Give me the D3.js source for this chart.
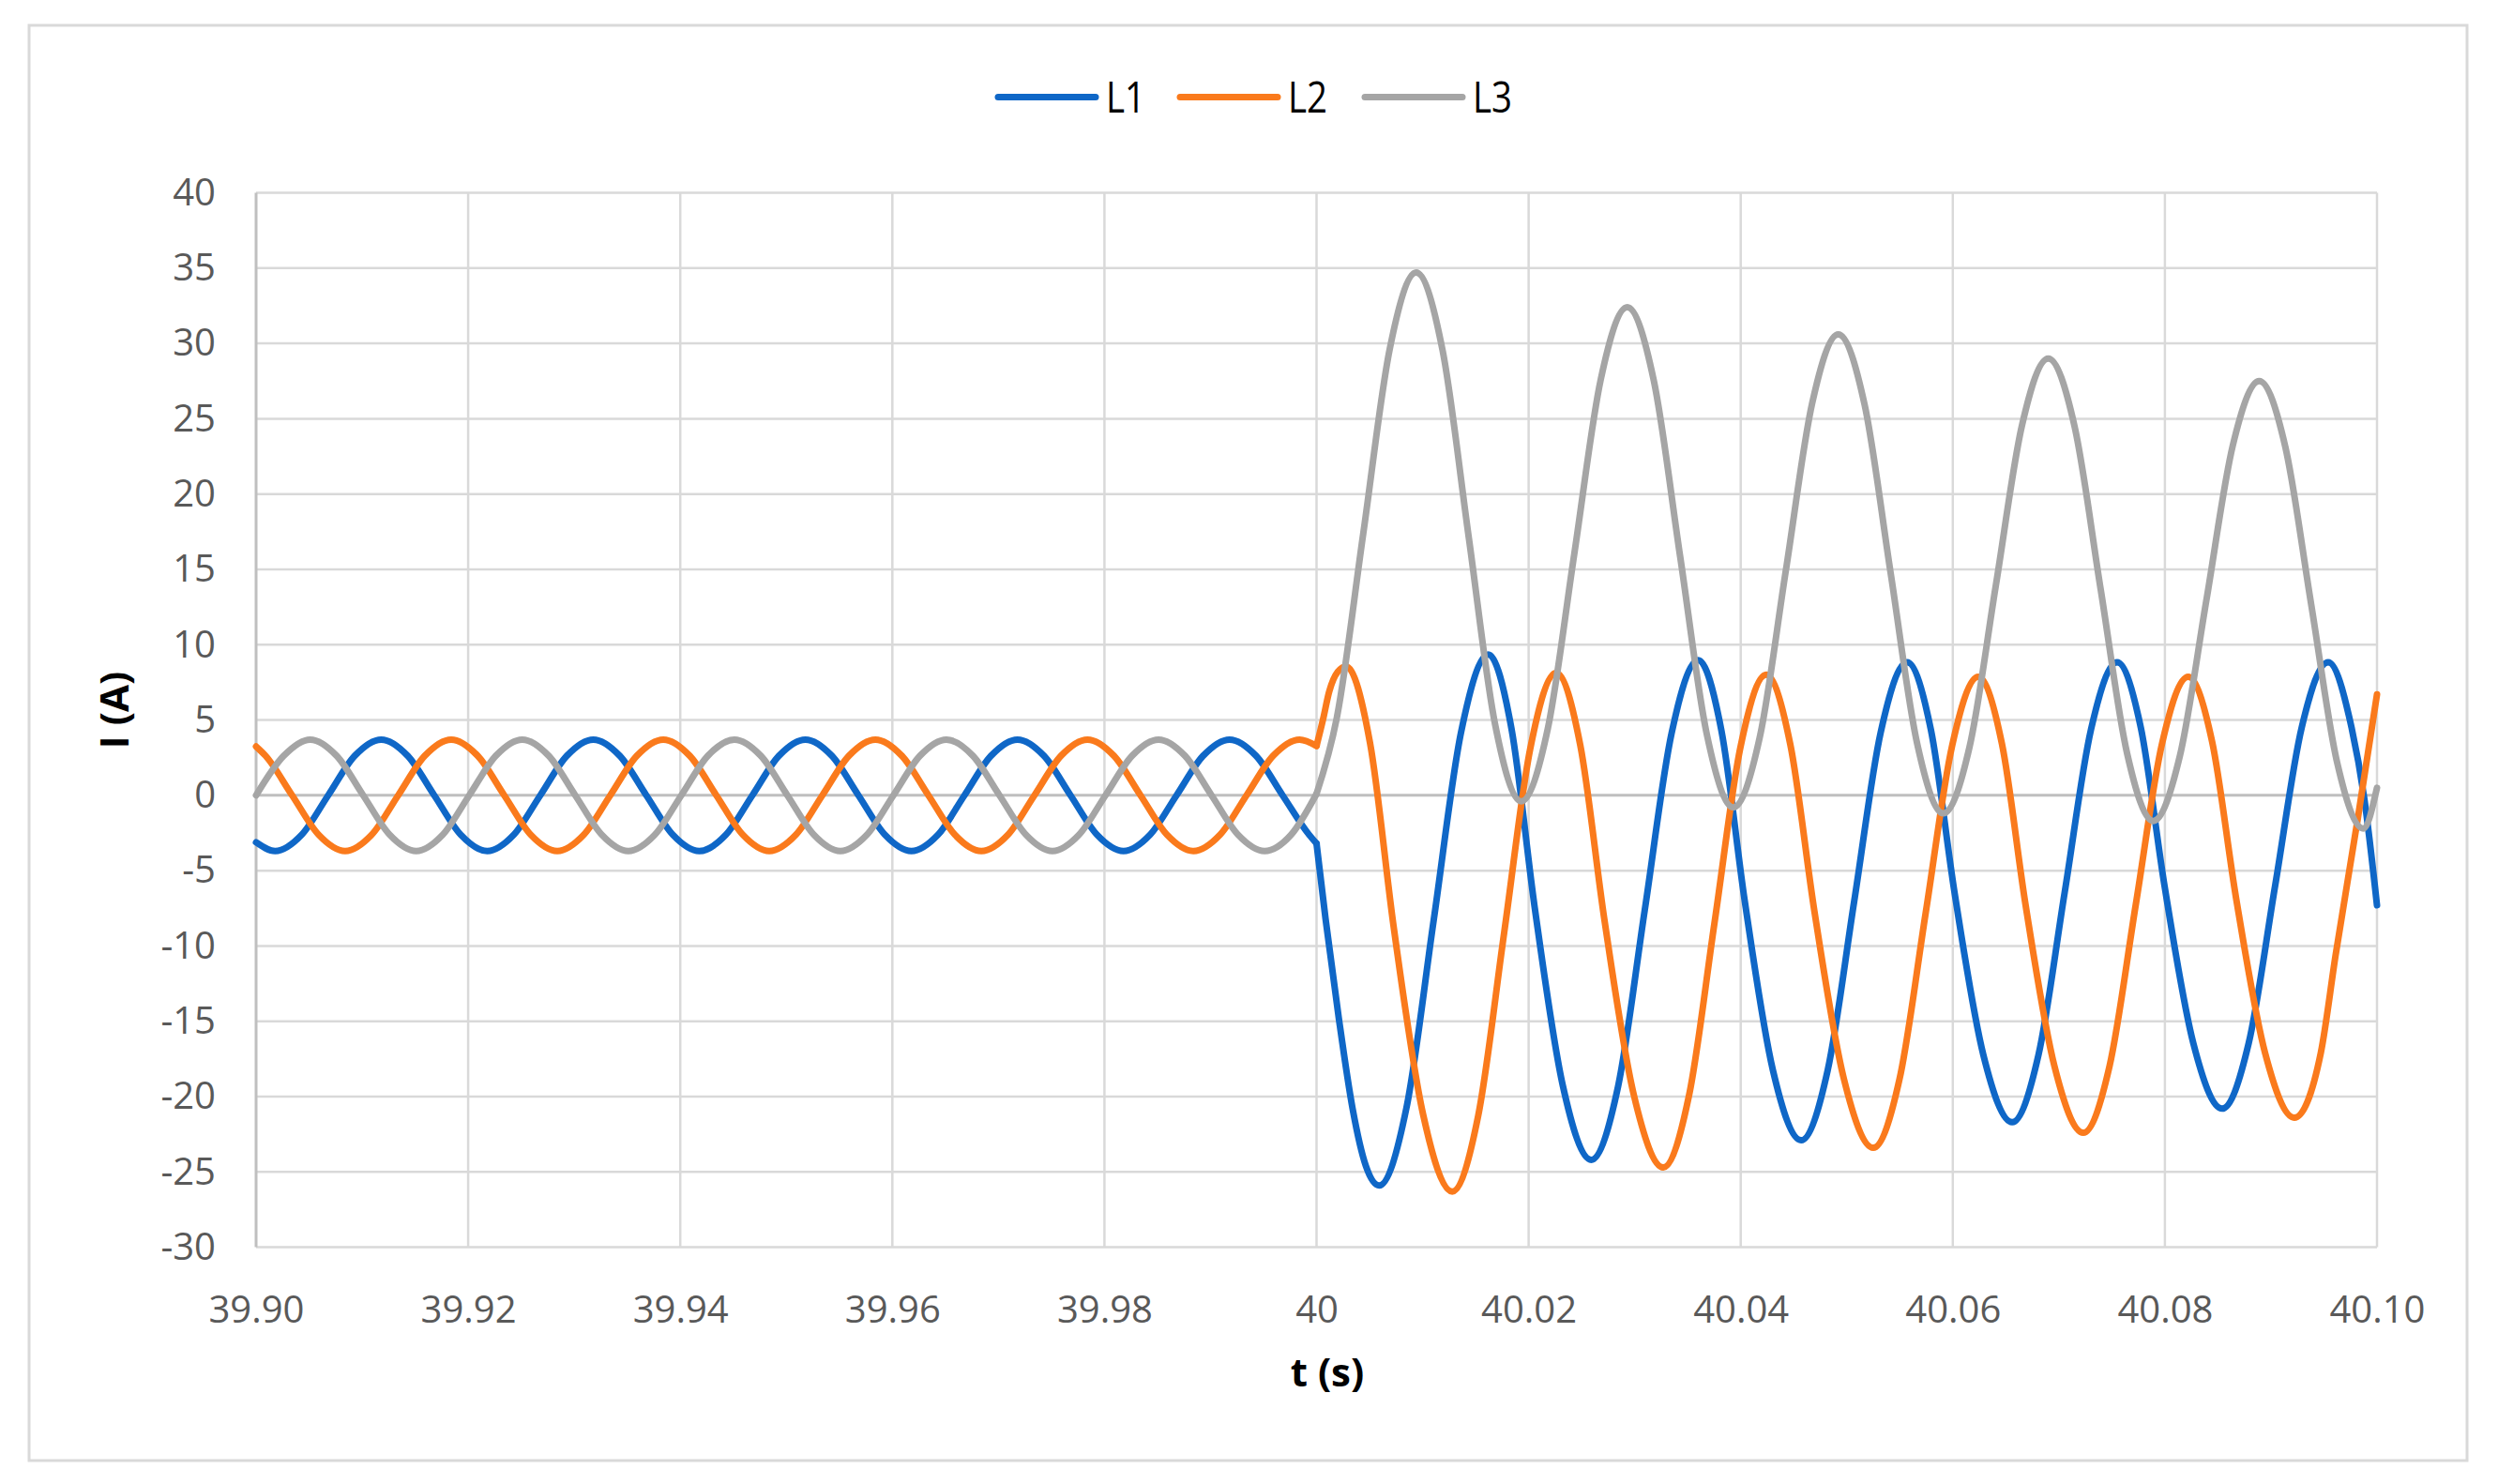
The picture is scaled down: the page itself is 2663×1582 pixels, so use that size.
<!DOCTYPE html>
<html><head><meta charset="utf-8">
<script src="https://cdn.jsdelivr.net/npm/d3@7"></script>
<style>html,body{margin:0;padding:0;background:#fff}svg{display:block}</style>
</head><body>
<svg id="chart" width="2663" height="1582"></svg>
<script>
// ---------- data ----------
const seriesNames = ["L1", "L2", "L3"];
const xTickValues = [39.90, 39.92, 39.94, 39.96, 39.98, 40.00, 40.02, 40.04, 40.06, 40.08, 40.10];
const xTickLabels = ["39.90", "39.92", "39.94", "39.96", "39.98", "40", "40.02", "40.04", "40.06", "40.08", "40.10"];
const yTickValues = [-30, -25, -20, -15, -10, -5, 0, 5, 10, 15, 20, 25, 30, 35, 40];
const yTickLabels = ["-30", "-25", "-20", "-15", "-10", "-5", "0", "5", "10", "15", "20", "25", "30", "35", "40"];
const faultTime = 40.0000;

const l1Time = [39.9000,39.9018,39.9043,39.9068,39.9093,39.9118,39.9143,39.9168,39.9193,39.9218,39.9243,39.9268,39.9293,39.9318,39.9343,39.9368,39.9393,39.9418,39.9443,39.9468,39.9493,39.9518,39.9543,39.9568,39.9593,39.9618,39.9643,39.9668,39.9693,39.9718,39.9743,39.9768,39.9793,39.9818,39.9843,39.9868,39.9893,39.9918,39.9943,39.9968,39.9993,40.0000,
  40.00085,40.0021,40.0034,40.00465,40.0059,40.00848,40.01105,40.01363,40.0162,40.01838,40.02057,40.02323,40.0259,40.02843,40.03095,40.03348,40.0360,40.03818,40.04037,40.04303,40.0457,40.0482,40.0507,40.0532,40.0557,40.05793,40.06016,40.06288,40.0656,40.06808,40.07055,40.07303,40.0755,40.07773,40.07996,40.08268,40.0854,40.0879,40.0904,40.0929,40.0954,40.0976,40.0988,40.1000];
const l1Current = [-3.12,-3.70,-2.62,0,2.62,3.70,2.62,0,-2.62,-3.70,-2.62,0,2.62,3.70,2.62,0,-2.62,-3.70,-2.62,0,2.62,3.70,2.62,0,-2.62,-3.70,-2.62,0,2.62,3.70,2.62,0,-2.62,-3.70,-2.62,0,2.62,3.70,2.62,0,-2.62,-3.20,
  -8.2,-14.8,-20.8,-24.6,-25.9,-20.74,-8.28,4.19,9.35,4.44,-7.43,-19.29,-24.2,-19.34,-7.62,4.11,8.97,4.30,-6.97,-18.23,-22.9,-18.25,-7.04,4.18,8.83,4.36,-6.44,-17.23,-21.7,-17.23,-6.44,4.36,8.83,4.49,-5.99,-16.46,-20.8,-16.46,-5.98,4.50,8.84,4.5,-0.2,-7.3];

const l2Time = [39.9000,39.9009,39.9034,39.9059,39.9084,39.9109,39.9134,39.9159,39.9184,39.9209,39.9234,39.9259,39.9284,39.9309,39.9334,39.9359,39.9384,39.9409,39.9434,39.9459,39.9484,39.9509,39.9534,39.9559,39.9584,39.9609,39.9634,39.9659,39.9684,39.9709,39.9734,39.9759,39.9784,39.9809,39.9834,39.9859,39.9884,39.9909,39.9934,39.9959,39.9984,40.0000,
  40.0006,40.0012,40.0020,40.0028,40.00505,40.0073,40.01005,40.0128,40.01525,40.0177,40.02015,40.0226,40.02487,40.02715,40.02992,40.0327,40.03513,40.03755,40.03998,40.0424,40.04467,40.04695,40.04972,40.0525,40.05498,40.05745,40.05993,40.0624,40.06463,40.06686,40.06958,40.0723,40.07478,40.07725,40.07973,40.0822,40.08445,40.0867,40.08945,40.0922,40.0947,40.0961,40.0982,40.1000];
const l2Current = [3.24,2.62,0,-2.62,-3.70,-2.62,0,2.62,3.70,2.62,0,-2.62,-3.70,-2.62,0,2.62,3.70,2.62,0,-2.62,-3.70,-2.62,0,2.62,3.70,2.62,0,-2.62,-3.70,-2.62,0,2.62,3.70,2.62,0,-2.62,-3.70,-2.62,0,2.62,3.70,3.28,
  5.0,6.9,8.2,8.56,3.45,-8.87,-21.19,-26.3,-21.25,-9.08,3.09,8.14,3.33,-8.28,-19.89,-24.7,-19.91,-8.35,3.21,8.0,3.4,-7.7,-18.8,-23.4,-18.82,-7.77,3.28,7.86,3.43,-7.27,-17.97,-22.4,-17.97,-7.27,3.43,7.86,3.57,-6.77,-17.11,-21.4,-17.1,-10.6,-1.5,6.7];

const l3Time = [39.9000,39.9026,39.9051,39.9076,39.9101,39.9126,39.9151,39.9176,39.9201,39.9226,39.9251,39.9276,39.9301,39.9326,39.9351,39.9376,39.9401,39.9426,39.9451,39.9476,39.9501,39.9526,39.9551,39.9576,39.9601,39.9626,39.9651,39.9676,39.9701,39.9726,39.9751,39.9776,39.9801,39.9826,39.9851,39.9876,39.9901,39.9926,39.9951,39.9976,40.0000,
  40.0019,40.0044,40.0069,40.0094,40.01188,40.01435,40.01683,40.0193,40.0218,40.0243,40.0268,40.0293,40.0318,40.0343,40.0368,40.0393,40.04178,40.04425,40.04673,40.0492,40.05168,40.05415,40.05663,40.0591,40.06158,40.06405,40.06653,40.0690,40.07148,40.07395,40.07643,40.0789,40.0814,40.0839,40.0864,40.0889,40.09135,40.0938,40.09625,40.0987,40.1000];
const l3Current = [0,2.62,3.70,2.62,0,-2.62,-3.70,-2.62,0,2.62,3.70,2.62,0,-2.62,-3.70,-2.62,0,2.62,3.70,2.62,0,-2.62,-3.70,-2.62,0,2.62,3.70,2.62,0,-2.62,-3.70,-2.62,0,2.62,3.70,2.62,0,-2.62,-3.70,-2.62,0.1,
  5.1,17.35,29.62,34.7,29.56,17.15,4.74,-0.4,4.4,16.0,27.6,32.4,27.54,15.8,4.06,-0.8,3.8,14.9,26.0,30.6,25.94,14.7,3.46,-1.2,3.22,13.9,24.58,29.0,24.5,13.65,2.8,-1.7,2.58,12.9,23.22,27.5,23.15,12.65,2.15,-2.2,0.5];

// ---------- styling / layout ----------
const colors = ["#0F67C7", "#FA7A1C", "#A5A5A5"];
const FONT = "'Open Sans', 'Noto Sans', sans-serif";
const W = 2663, H = 1582;
const plot = {left: 273, right: 2534, top: 205.5, bottom: 1329.6};

const svg = d3.select("#chart");
svg.append("rect").attr("x", 0).attr("y", 0).attr("width", W).attr("height", H).attr("fill", "#fff");
svg.append("rect").attr("x", 31).attr("y", 27).attr("width", 2599).attr("height", 1530)
  .attr("fill", "#fff").attr("stroke", "#D9D9D9").attr("stroke-width", 3);

const x = d3.scaleLinear().domain([39.90, 40.10]).range([plot.left, plot.right]);
const y = d3.scaleLinear().domain([-30, 40]).range([plot.bottom, plot.top]);

// gridlines
const grid = svg.append("g");
grid.selectAll("line.h").data(yTickValues.filter(v => v !== 0)).enter().append("line")
  .attr("x1", plot.left).attr("x2", plot.right)
  .attr("y1", d => y(d)).attr("y2", d => y(d))
  .attr("stroke", "#D9D9D9").attr("stroke-width", 2.5);
grid.selectAll("line.v").data(xTickValues.slice(1)).enter().append("line")
  .attr("y1", plot.top).attr("y2", plot.bottom)
  .attr("x1", d => x(d)).attr("x2", d => x(d))
  .attr("stroke", "#D9D9D9").attr("stroke-width", 2.5);
// axis lines
grid.append("line").attr("x1", plot.left).attr("x2", plot.right).attr("y1", y(0)).attr("y2", y(0))
  .attr("stroke", "#BFBFBF").attr("stroke-width", 3);
grid.append("line").attr("x1", plot.left).attr("x2", plot.left).attr("y1", plot.top).attr("y2", plot.bottom)
  .attr("stroke", "#BFBFBF").attr("stroke-width", 3);

// y axis labels
const yAxis = svg.append("g").attr("transform", `translate(${plot.left},0)`)
  .call(d3.axisLeft(y).tickValues(yTickValues).tickSize(0).tickPadding(43)
    .tickFormat((d, i) => yTickLabels[i]));
yAxis.select(".domain").remove();
yAxis.selectAll("text").attr("font-family", FONT).attr("font-size", 40).attr("fill", "#595959");

// x axis labels
const xAxis = svg.append("g").attr("transform", `translate(0,${plot.bottom})`)
  .call(d3.axisBottom(x).tickValues(xTickValues).tickSize(0)
    .tickFormat((d, i) => xTickLabels[i]));
xAxis.select(".domain").remove();
xAxis.selectAll("text").attr("font-family", FONT).attr("font-size", 40).attr("fill", "#595959")
  .attr("y", 80.4).attr("dy", 0);

// axis titles
svg.append("text").attr("x", 1415).attr("y", 1478).attr("text-anchor", "middle")
  .attr("font-family", FONT).attr("font-weight", "bold").attr("font-size", 42).attr("fill", "#000")
  .text("t (s)");
svg.append("text").attr("transform", "translate(137,757) rotate(-90)").attr("text-anchor", "middle")
  .attr("font-family", FONT).attr("font-weight", "bold").attr("font-size", 42).attr("fill", "#000")
  .text("I (A)");

// series
const series = [
  {name: seriesNames[0], t: l1Time, v: l1Current, color: colors[0]},
  {name: seriesNames[1], t: l2Time, v: l2Current, color: colors[1]},
  {name: seriesNames[2], t: l3Time, v: l3Current, color: colors[2]}
];
const line = d3.line().x(d => x(d.t)).y(d => y(d.v)).curve(d3.curveMonotoneX);
const lines = svg.append("g");
series.forEach(s => {
  const pts = s.t.map((t, i) => ({t: t, v: s.v[i]}));
  const k = pts.findIndex(p => p.t >= faultTime);
  const segs = [pts.slice(0, k + 1), pts.slice(k)];
  segs.forEach(seg => {
    lines.append("path").datum(seg).attr("d", line)
      .attr("fill", "none").attr("stroke", s.color).attr("stroke-width", 7)
      .attr("stroke-linecap", "round").attr("stroke-linejoin", "round");
  });
});

// legend
const legendX = [1064, 1258, 1455];
const legend = svg.append("g");
series.forEach((s, i) => {
  legend.append("line").attr("x1", legendX[i]).attr("x2", legendX[i] + 104)
    .attr("y1", 103.5).attr("y2", 103.5).attr("stroke", s.color).attr("stroke-width", 7)
    .attr("stroke-linecap", "round");
  legend.append("text").attr("x", legendX[i] + 115).attr("y", 119.5)
    .attr("font-family", FONT).attr("font-size", 46).attr("fill", "#000")
    .attr("textLength", 42).attr("lengthAdjust", "spacingAndGlyphs")
    .text(s.name);
});
</script>
</body></html>
